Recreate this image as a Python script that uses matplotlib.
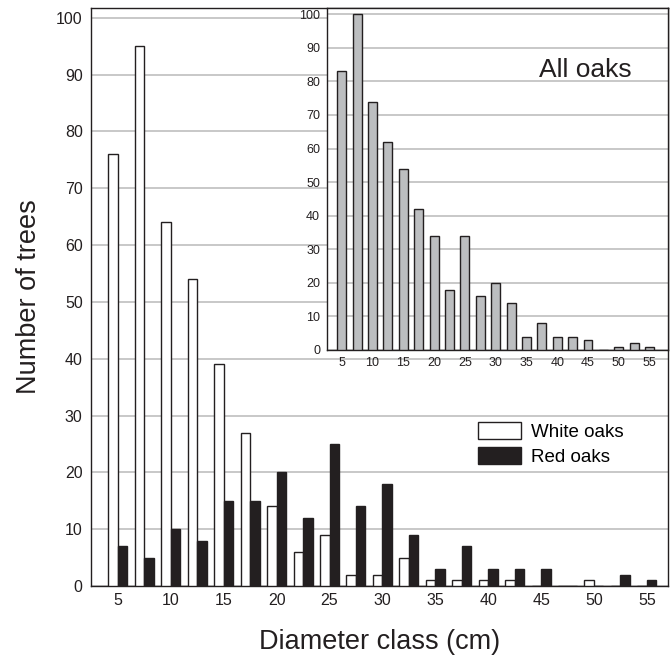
import numpy as np
import matplotlib.pyplot as plt

plt.rcParams['font.family'] = ['Liberation Sans', 'DejaVu Sans']

# diameter classes (cm) and tree counts
classes = [5, 7.5, 10, 12.5, 15, 17.5, 20, 22.5, 25, 27.5, 30, 32.5,
           35, 37.5, 40, 42.5, 45, 47.5, 50, 52.5, 55]
white_oaks = [76, 95, 64, 54, 39, 27, 14, 6, 9, 2, 2, 5,
              1, 1, 1, 1, 0, 0, 1, 0, 0]
red_oaks = [7, 5, 10, 8, 15, 15, 20, 12, 25, 14, 18, 9,
            3, 7, 3, 3, 3, 0, 0, 2, 1]
all_oaks = [83, 100, 74, 62, 54, 42, 34, 18, 34, 16, 20, 14,
            4, 8, 4, 4, 3, 0, 1, 2, 1]
xticks = [5, 10, 15, 20, 25, 30, 35, 40, 45, 50, 55]

dark = '#231f20'
grid = '#c4c4c4'

fig = plt.figure(figsize=(6.71, 6.58), dpi=100)
W, H = 671, 658

# main chart
ax = fig.add_axes([91/W, 1 - 586/H, (668 - 91)/W, (586 - 7.5)/H])
x = np.array(classes)
ax.bar(x - 0.45, white_oaks, width=0.9, color='white', edgecolor=dark,
       linewidth=1, label='White oaks', zorder=3)
ax.bar(x + 0.45, red_oaks, width=0.9, color=dark, edgecolor=dark,
       linewidth=1, label='Red oaks', zorder=3)
ax.set_xlim(2.45, 57)
ax.set_ylim(0, 101.8)
ax.set_xticks(xticks)
ax.set_yticks(range(0, 101, 10))
ax.yaxis.grid(True, color=grid, linewidth=1.3)
ax.set_axisbelow(True)
ax.tick_params(length=0, labelsize=11.5, colors=dark)
ax.tick_params(axis='x', pad=5)
ax.tick_params(axis='y', pad=6)
for s in ax.spines.values():
    s.set_color(dark)
    s.set_linewidth(1)
ax.set_xlabel('Diameter class (cm)', fontsize=19.5, color=dark, va='center')
ax.set_ylabel('Number of trees', fontsize=19.5, color=dark, va='center')
ax.xaxis.set_label_coords(0.5, (586 - 642) / 578.5)
ax.yaxis.set_label_coords((29 - 91) / 577, 0.5)
ax.legend(loc='upper left', bbox_to_anchor=(478/W, 1 - 422/H),
          bbox_transform=fig.transFigure, frameon=False, fontsize=13.5,
          handlelength=2.3, handleheight=1.05, handletextpad=0.55,
          labelspacing=0.3, borderpad=0, borderaxespad=0)

# inset: all oaks
ins = fig.add_axes([327/W, 1 - 350/H, (668 - 327)/W, (350 - 7.5)/H])
ins.bar(classes, all_oaks, width=1.45, color='#bcbec0', edgecolor=dark,
        linewidth=1, zorder=3)
ins.set_xlim(2.6, 58)
ins.set_ylim(0, 102)
ins.set_xticks(xticks)
ins.set_yticks(range(0, 101, 10))
ins.yaxis.grid(True, color=grid, linewidth=1.3)
ins.set_axisbelow(True)
ins.tick_params(length=0, labelsize=9, colors=dark, pad=5)
for s in ins.spines.values():
    s.set_color(dark)
    s.set_linewidth(1)
ins.text(0.757, 0.8175, 'All oaks', transform=ins.transAxes, fontsize=19,
         color=dark, ha='center', va='center')

fig.savefig('out.png', dpi=100)
